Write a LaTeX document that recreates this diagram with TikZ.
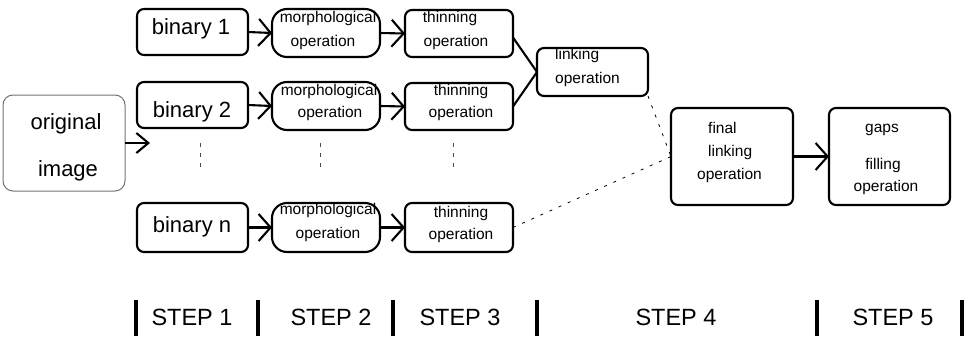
\documentclass[tikz,border=0pt]{standalone}
\usepackage{fontspec}
\setmainfont{Liberation Sans}
\usetikzlibrary{arrows.meta}
\begin{document}
\begin{tikzpicture}[x=1pt,y=-1pt,
  box/.style={draw, line width=2.1pt, rounded corners=7pt, inner sep=0pt, outer sep=0pt, anchor=north west},
  mbox/.style={box, rounded corners=15pt},
  obox/.style={draw=black!55, line width=1pt, rounded corners=10pt, inner sep=0pt, outer sep=0pt, anchor=north west},
  big/.style={font=\fontsize{22}{26}\selectfont, inner sep=0pt, anchor=base},
  small/.style={font=\fontsize{15.5}{18}\selectfont, inner sep=0pt, anchor=base},
  steptxt/.style={font=\fontsize{23.5}{28}\selectfont, inner sep=0pt, anchor=base},
  arr/.style={line width=2.1pt, -{Straight Barb[length=12pt,width=27pt]}},
  arro/.style={line width=2.1pt, -{Straight Barb[length=12pt,width=20pt]}},
  link/.style={line width=2.1pt},
  dline/.style={line width=0.8pt, dash pattern=on 3pt off 7pt},
  vdots/.style={line width=0.8pt, black!70, dash pattern=on 4pt off 6pt},
  bar/.style={line width=3.4pt}
]
\useasboundingbox (0,0) rectangle (968,343);

% boxes
\node[obox, minimum width=122pt, minimum height=96pt] (orig) at (3,95) {};
\node[box, minimum width=111pt, minimum height=46pt] (b1) at (137,9) {};
\node[box, minimum width=111pt, minimum height=46pt] (b2) at (137,82) {};
\node[box, minimum width=111pt, minimum height=49pt] (bn) at (137,203) {};
\node[mbox, minimum width=108pt, minimum height=48pt] (m1) at (272,9) {};
\node[mbox, minimum width=108pt, minimum height=48pt] (m2) at (272,82) {};
\node[mbox, minimum width=108pt, minimum height=49pt] (mn) at (272,203) {};
\node[box, minimum width=108pt, minimum height=47pt] (t1) at (405,10) {};
\node[box, minimum width=108pt, minimum height=47pt] (t2) at (405,83) {};
\node[box, minimum width=108pt, minimum height=49pt] (tn) at (405,203) {};
\node[box, minimum width=111pt, minimum height=48pt] (lk) at (537,48) {};
\node[box, minimum width=122pt, minimum height=97pt] (fl) at (671,108) {};
\node[box, minimum width=121pt, minimum height=97pt] (gf) at (829,108) {};

% texts
\node[big] (orig1) at (66,129) {original};
\node[big] (orig2) at (68,176) {image};
\node[big] (b1t) at (191,34) {binary 1};
\node[big] (b2t) at (192,117) {binary 2};
\node[big] (bnt) at (192,232) {binary n};

\node[small] (m1a) at (328,22) {morphological};
\node[small] (m1b) at (323,46) {operation};
\node[small] (m2a) at (329,95) {morphological};
\node[small] (m2b) at (330,117) {operation};
\node[small] (mna) at (328,214) {morphological};
\node[small] (mnb) at (328,238) {operation};

\node[small] (t1a) at (450,22) {thinning};
\node[small] (t1b) at (456,46) {operation};
\node[small] (t2a) at (461,95) {thinning};
\node[small] (t2b) at (461,117) {operation};
\node[small] (tna) at (461,217) {thinning};
\node[small] (tnb) at (461,239) {operation};

\node[small, anchor=base west] (lka) at (555,59) {linking};
\node[small, anchor=base west] (lkb) at (555,83) {operation};

\node[small, anchor=base west] (fla) at (708,133) {final};
\node[small, anchor=base west] (flb) at (708,156) {linking};
\node[small, anchor=base west] (flc) at (697,179) {operation};

\node[small] (gfa) at (882,132) {gaps};
\node[small] (gfb) at (883,169) {filling};
\node[small] (gfc) at (886,191) {operation};

% connectors
\coordinate (oa) at (150,143);
\draw[arro] (orig.east) -- (oa);
\draw[arr] (b1.east) -- (m1.west);
\draw[arr] (b2.east) -- (m2.west);
\draw[arr] (bn.east) -- (mn.west);
\draw[arr] (m1.east) -- (t1.west);
\draw[arr] (m2.east) -- (t2.west);
\draw[arr] (mn.east) -- (tn.west);
\draw[link] ([yshift=-4pt]t1.east) -- (lk.west);
\draw[link] (t2.east) -- (lk.west);
\draw[dline] (lk.south east) -- (fl.west);
\draw[dline] (tn.east) -- (fl.west);
\draw[arr] (fl.east) -- (gf.west);

% vertical dots
\draw[vdots] (200,143) -- (200,172);
\draw[vdots] (320,143) -- (320,172);
\draw[vdots] (453,143) -- (453,172);

% steps
\foreach \x in {136,258,393,537,817,962} \draw[bar] (\x,300) -- (\x,336);
\node[steptxt] (s1) at (192,325) {STEP 1};
\node[steptxt] (s2) at (331,325) {STEP 2};
\node[steptxt] (s3) at (460,325) {STEP 3};
\node[steptxt] (s4) at (676,325) {STEP 4};
\node[steptxt] (s5) at (893,325) {STEP 5};
\end{tikzpicture}
\end{document}
